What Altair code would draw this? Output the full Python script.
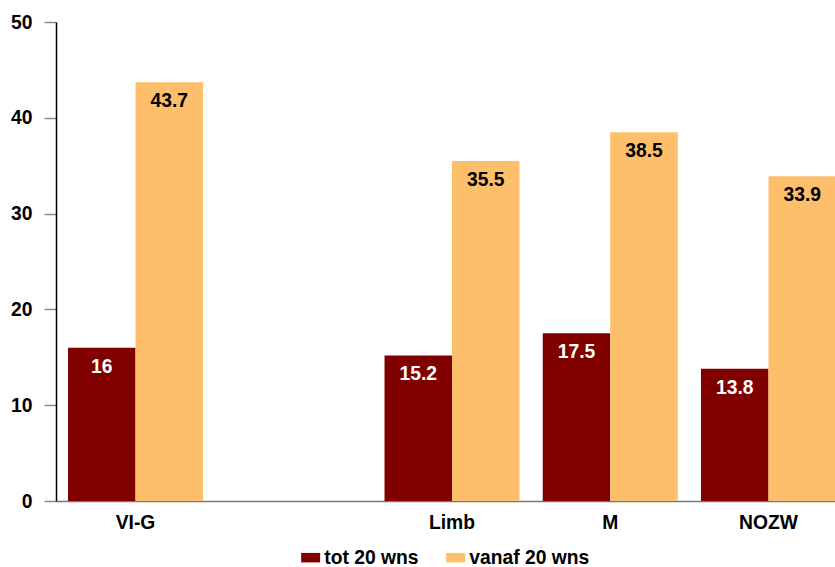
import altair as alt
import pandas as pd

# Regions on the x axis; the blank slot keeps an empty band between VI-G and Limb
regions = ["VI-G", "Limb", "M", "NOZW"]
axis_domain = ["VI-G", " ", "Limb", "M", "NOZW"]
series_names = ["tot 20 wns", "vanaf 20 wns"]
tot_20 = [16, 15.2, 17.5, 13.8]
vanaf_20 = [43.7, 35.5, 38.5, 33.9]
series_colors = ["#800000", "#FDBF6B"]

rows = []
for reg, a, b in zip(regions, tot_20, vanaf_20):
    rows.append({"region": reg, "series": series_names[0], "value": a})
    rows.append({"region": reg, "series": series_names[1], "value": b})
df = pd.DataFrame(rows)

FONT = "Liberation Sans"
FS = 19.3

x_enc = alt.X(
    "region:N",
    sort=axis_domain,
    scale=alt.Scale(domain=axis_domain, range=[0, 792],
                    paddingInner=0.147, paddingOuter=0.076),
    axis=alt.Axis(title=None, labelAngle=0, ticks=False, domainColor="#777777",
                  domainWidth=1.5, labelFont=FONT, labelFontSize=FS,
                  labelFontWeight="bold", labelColor="#000000", labelPadding=12),
)
xo_enc = alt.XOffset("series:N", sort=series_names, scale=alt.Scale(paddingInner=0))
y_enc = alt.Y(
    "value:Q",
    scale=alt.Scale(domain=[0, 50], nice=False),
    axis=alt.Axis(title=None, values=[0, 10, 20, 30, 40, 50], grid=False,
                  domainColor="#000000", domainWidth=1.5, tickColor="#888888",
                  tickSize=12, tickWidth=1.5, labelFont=FONT, labelFontSize=FS,
                  labelFontWeight="bold", labelColor="#000000", labelPadding=12),
)

bars = alt.Chart(df).mark_bar(size=67.5).encode(
    x=x_enc,
    xOffset=xo_enc,
    y=y_enc,
    color=alt.Color(
        "series:N",
        sort=series_names,
        scale=alt.Scale(domain=series_names, range=series_colors),
        legend=alt.Legend(
            title=None, orient="none", direction="horizontal",
            legendX=245, legendY=526,
            symbolType="M-1,-0.5H1V0.5H-1Z", symbolSize=361,
            symbolStrokeWidth=0, symbolOpacity=1,
            labelFont=FONT, labelFontSize=FS, labelFontWeight="bold",
            labelColor="#000000", labelOffset=4, columnPadding=27,
        ),
    ),
)

labels = alt.Chart(df).mark_text(
    font=FONT, fontSize=FS, fontWeight="bold", baseline="middle", dy=19
).encode(
    x=alt.X("region:N", sort=axis_domain),
    xOffset=xo_enc,
    y=alt.Y("value:Q"),
    text=alt.Text("value:Q", format=".1~f"),
    color=alt.condition(alt.datum.series == series_names[0],
                        alt.value("#FFFFFF"), alt.value("#000000")),
)

chart = (
    alt.layer(bars, labels)
    .properties(
        width=779,
        height=479,
        autosize=alt.AutoSizeParams(type="none"),
        padding={"left": 56, "top": 22, "right": 0, "bottom": 66},
        background="#FFFFFF",
    )
    .configure_view(stroke=None)
)

chart.save("out.html", embed_options={"renderer": "svg", "actions": False})
